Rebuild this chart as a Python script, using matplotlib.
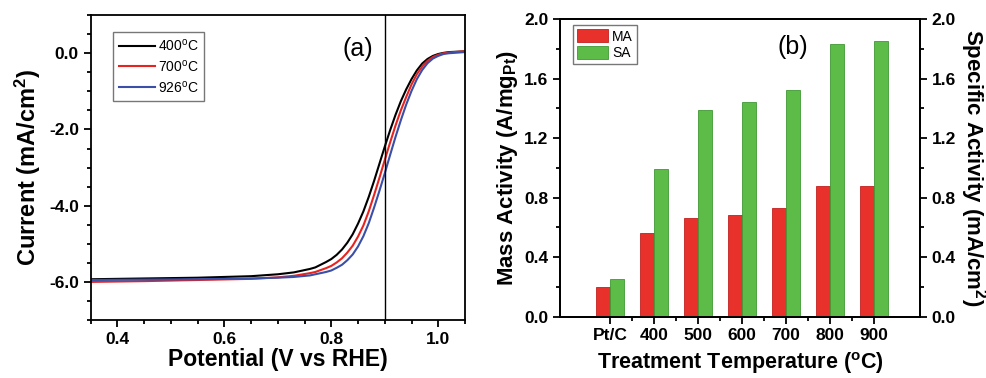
import matplotlib
matplotlib.use("Agg")
import matplotlib.pyplot as plt
import numpy as np
from matplotlib.ticker import MultipleLocator

plt.rcParams['font.family'] = ['Liberation Sans', 'DejaVu Sans']
plt.rcParams['mathtext.fontset'] = 'custom'
plt.rcParams['mathtext.rm'] = 'Liberation Sans'
plt.rcParams['mathtext.bf'] = 'Liberation Sans:bold'

# (a) polarization curves
potential = [0.35, 0.45, 0.55, 0.65, 0.70, 0.73, 0.76, 0.77, 0.78, 0.79,
             0.80, 0.81, 0.82, 0.83, 0.84, 0.85, 0.86, 0.87, 0.88, 0.89,
             0.90, 0.91, 0.92, 0.93, 0.94, 0.95, 0.96, 0.97, 0.98, 0.99,
             1.00, 1.01, 1.02, 1.05]
cur_400 = [-5.93, -5.91, -5.89, -5.85, -5.80, -5.75, -5.66, -5.62, -5.55, -5.48,
           -5.40, -5.29, -5.15, -4.97, -4.75, -4.47, -4.15, -3.77, -3.35, -2.90,
           -2.45, -2.02, -1.62, -1.26, -0.95, -0.68, -0.45, -0.27, -0.15, -0.07,
           -0.02, 0.01, 0.03, 0.05]
cur_700 = [-6.00, -5.98, -5.95, -5.92, -5.88, -5.84, -5.77, -5.74, -5.69, -5.64,
           -5.58, -5.49, -5.38, -5.23, -5.05, -4.81, -4.52, -4.15, -3.72, -3.27,
           -2.80, -2.34, -1.90, -1.50, -1.15, -0.82, -0.55, -0.35, -0.20, -0.10,
           -0.04, 0.00, 0.02, 0.05]
cur_926 = [-5.95, -5.94, -5.93, -5.91, -5.89, -5.87, -5.83, -5.80, -5.77, -5.74,
           -5.70, -5.63, -5.55, -5.43, -5.28, -5.07, -4.80, -4.46, -4.05, -3.61,
           -3.15, -2.67, -2.20, -1.76, -1.35, -0.99, -0.68, -0.44, -0.26, -0.14,
           -0.07, -0.02, 0.00, 0.03]

# (b) activities
temps = ['Pt/C', '400', '500', '600', '700', '800', '900']
mass_act = [0.20, 0.56, 0.66, 0.68, 0.73, 0.88, 0.88]
spec_act = [0.25, 0.99, 1.39, 1.44, 1.52, 1.83, 1.85]

fig = plt.figure(figsize=(9.87, 3.78), dpi=100)
ax1 = fig.add_axes([0.0919, 0.1534, 0.3792, 0.8066])
ax2 = fig.add_axes([0.5674, 0.1622, 0.3647, 0.7875])

lw = 1.3
tick_fs = 12.5
for ax in (ax1, ax2):
    for s in ax.spines.values():
        s.set_linewidth(lw)

# --- panel a
ax1.plot(potential, cur_400, color='black', lw=1.5, label='400$^\\mathregular{o}$C')
ax1.plot(potential, cur_700, color='#e8231f', lw=1.5, label='700$^\\mathregular{o}$C')
ax1.plot(potential, cur_926, color='#3a4fa8', lw=1.5, label='926$^\\mathregular{o}$C')
ax1.axvline(0.9, color='black', lw=1.0)
ax1.set_xlim(0.35, 1.05)
ax1.set_ylim(-7, 1)
ax1.xaxis.set_minor_locator(MultipleLocator(0.05))
ax1.yaxis.set_minor_locator(MultipleLocator(0.5))
ax1.set_yticks([-6, -4, -2, 0])
ax1.set_yticklabels(['-6.0', '-4.0', '-2.0', '0.0'])
ax1.set_xticks([0.4, 0.6, 0.8, 1.0])
ax1.set_xticklabels(['0.4', '0.6', '0.8', '1.0'])
ax1.tick_params(which='both', direction='out', width=lw, labelsize=tick_fs)
ax1.tick_params(which='major', length=5)
ax1.tick_params(which='minor', length=3)
for t in ax1.get_xticklabels() + ax1.get_yticklabels():
    t.set_fontweight('bold')
ax1.set_xlabel('Potential (V vs RHE)', fontsize=16.5, fontweight='bold', labelpad=1)
ax1.set_ylabel('Current (mA/cm$\\mathbf{^2}$)', fontsize=17, fontweight='bold', labelpad=4)
ax1.text(0.714, 0.89, '(a)', transform=ax1.transAxes, fontsize=18, ha='center', va='center')
leg = ax1.legend(loc='upper left', bbox_to_anchor=(0.06, 0.945), fontsize=10,
                 frameon=True, fancybox=False, handlelength=2.6, handletextpad=0.2,
                 borderpad=0.4, labelspacing=0.35, borderaxespad=0)
leg.get_frame().set_edgecolor('#555555')
leg.get_frame().set_linewidth(1.0)

# --- panel b
x = np.arange(len(temps))
w = 0.32
ax2.bar(x - w / 2, mass_act, w, color='#e8312a', edgecolor='#c42020', lw=0.6, label='MA')
ax2.bar(x + w / 2, spec_act, w, color='#5dbb47', edgecolor='#3f9a35', lw=0.6, label='SA')
ax2.set_xlim(-1.14, 7.05)
ax2.set_ylim(0, 2.0)
ax2.set_xticks(x)
ax2.set_xticklabels(temps)
ax2.set_xticks(x[:-1] + 0.5, minor=True)
ax2.yaxis.set_minor_locator(MultipleLocator(0.2))
ax2.set_yticks([0, 0.4, 0.8, 1.2, 1.6, 2.0])
ax2.set_yticklabels(['0.0', '0.4', '0.8', '1.2', '1.6', '2.0'])
ax2.tick_params(which='both', direction='out', width=lw, labelsize=tick_fs)
ax2.tick_params(which='major', length=5)
ax2.tick_params(which='minor', length=3)
for t in ax2.get_xticklabels() + ax2.get_yticklabels():
    t.set_fontweight('bold')
ax2.set_xlabel('Treatment Temperature ($^\\mathbf{o}$C)', fontsize=15.5, fontweight='bold', labelpad=5)
ax2.set_ylabel('Mass Activity (A/mg$\\mathbf{_{Pt}}$)', fontsize=16, fontweight='bold', labelpad=3)
ax2.text(0.647, 0.906, '(b)', transform=ax2.transAxes, fontsize=18, ha='center', va='center')
leg2 = ax2.legend(loc='upper left', bbox_to_anchor=(0.036, 0.98), fontsize=10,
                  frameon=True, fancybox=False, handlelength=2.2, handleheight=1.1,
                  handletextpad=0.3, borderpad=0.3, labelspacing=0.15, borderaxespad=0)
leg2.get_frame().set_edgecolor('#555555')
leg2.get_frame().set_linewidth(1.0)

# right axis: specific activity (same scale)
ax3 = ax2.twinx()
ax3.set_ylim(0, 2.0)
ax3.set_yticks([0, 0.4, 0.8, 1.2, 1.6, 2.0])
ax3.set_yticklabels(['0.0', '0.4', '0.8', '1.2', '1.6', '2.0'])
ax3.yaxis.set_minor_locator(MultipleLocator(0.2))
ax3.tick_params(which='both', direction='out', width=lw, labelsize=tick_fs)
ax3.tick_params(which='major', length=5)
ax3.tick_params(which='minor', length=3)
for t in ax3.get_yticklabels():
    t.set_fontweight('bold')
for s in ax3.spines.values():
    s.set_linewidth(lw)
ax3.set_ylabel('Specific Activity (mA/cm$\\mathbf{^2}$)', fontsize=16, fontweight='bold',
               rotation=270, va='bottom', labelpad=1)

fig.savefig('out.png', dpi=100)
